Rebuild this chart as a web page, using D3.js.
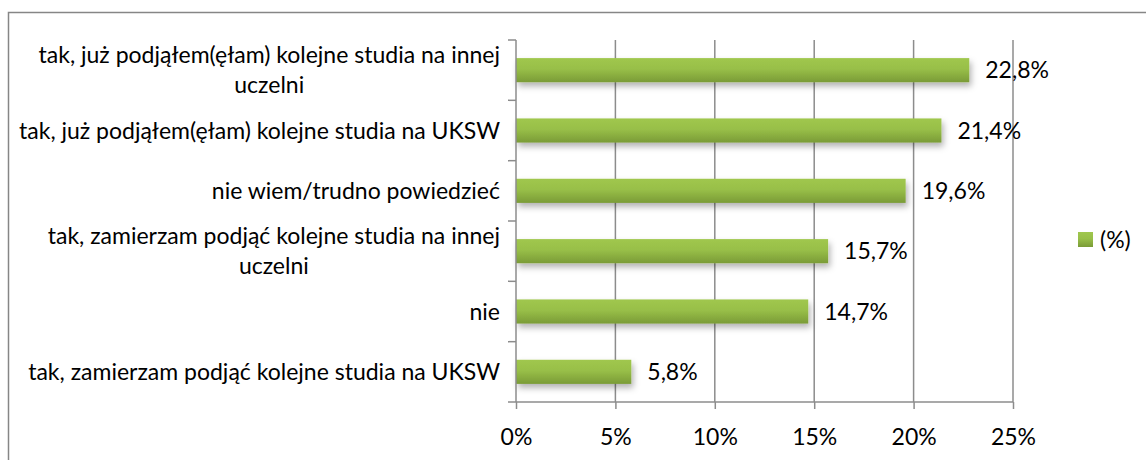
<!DOCTYPE html>
<html>
<head>
<meta charset="utf-8">
<script src="https://cdn.jsdelivr.net/npm/d3@7"></script>
<style>
  body { margin: 0; background: #fff; }
  svg text { font-family: Lato, "Open Sans", sans-serif; fill: #000; }
</style>
</head>
<body>
<svg id="chart"></svg>
<script>
// categories, top to bottom
let categories = [
    ["tak, już podjąłem(ęłam) kolejne studia na innej", "uczelni"],
    ["tak, już podjąłem(ęłam) kolejne studia na UKSW"],
    ["nie wiem/trudno powiedzieć"],
    ["tak, zamierzam podjąć kolejne studia na innej", "uczelni"],
    ["nie"],
    ["tak, zamierzam podjąć kolejne studia na UKSW"]
];
let values = [22.8, 21.4, 19.6, 15.7, 14.7, 5.8];
let valueLabels = ["22,8%", "21,4%", "19,6%", "15,7%", "14,7%", "5,8%"];
let xTicks = [0, 5, 10, 15, 20, 25];
let seriesName = "(%)";

let width = 1146;
let height = 460;
let plot = {left: 516, right: 1013, top: 40, bottom: 402};
let fontSize = 23;

let svg = d3.select("#chart")
    .attr("width", width)
    .attr("height", height);

let defs = svg.append("defs");
let grad = defs.append("linearGradient")
    .attr("id", "barGrad")
    .attr("x1", 0).attr("y1", 0).attr("x2", 0).attr("y2", 1);
grad.append("stop").attr("offset", "0%").attr("stop-color", "#a0c74e");
grad.append("stop").attr("offset", "45%").attr("stop-color", "#98bf48");
grad.append("stop").attr("offset", "100%").attr("stop-color", "#7a9b37");

let shadow = defs.append("filter")
    .attr("id", "shadow")
    .attr("x", "-5%").attr("y", "-20%")
    .attr("width", "115%").attr("height", "180%");
shadow.append("feDropShadow")
    .attr("dx", 2).attr("dy", 4)
    .attr("stdDeviation", 3)
    .attr("flood-color", "#000")
    .attr("flood-opacity", 0.3);

// outer border (chart area continues past the window)
svg.append("rect")
    .attr("x", 8.5).attr("y", 12.5)
    .attr("width", width + 20).attr("height", height + 20)
    .attr("fill", "none")
    .attr("stroke", "#868686")
    .attr("stroke-width", 1.5);

let x = d3.scaleLinear()
    .domain([0, 25])
    .range([plot.left, plot.right]);

let y = d3.scaleBand()
    .domain(d3.range(categories.length))
    .range([plot.top, plot.bottom])
    .paddingInner(0.6)
    .paddingOuter(0.3);

let band = d3.scaleBand()
    .domain(d3.range(categories.length))
    .range([plot.top, plot.bottom]);

// vertical gridlines
svg.append("g")
    .selectAll("line")
    .data(xTicks.slice(1))
    .join("line")
        .attr("x1", d => x(d)).attr("x2", d => x(d))
        .attr("y1", plot.top).attr("y2", plot.bottom)
        .attr("stroke", "#8c8c8c")
        .attr("stroke-width", 1.5);

// bars
svg.append("g")
    .selectAll("rect")
    .data(values)
    .join("rect")
        .attr("x", x(0))
        .attr("y", (d, i) => y(i))
        .attr("width", d => x(d) - x(0))
        .attr("height", y.bandwidth())
        .attr("fill", "url(#barGrad)")
        .attr("filter", "url(#shadow)");

// value labels
svg.append("g")
    .selectAll("text")
    .data(values)
    .join("text")
        .attr("x", d => x(d) + 16)
        .attr("y", (d, i) => y(i) + y.bandwidth() / 2)
        .attr("dy", "0.35em")
        .style("font-size", fontSize + "px")
        .text((d, i) => valueLabels[i]);

// x axis
let xAxis = svg.append("g")
    .attr("transform", `translate(0,${plot.bottom})`)
    .call(d3.axisBottom(x)
        .tickValues(xTicks)
        .tickFormat(d => d + "%")
        .tickSize(7)
        .tickSizeOuter(0));
xAxis.select(".domain").remove();
xAxis.append("line")
    .attr("x1", plot.left - 8).attr("x2", plot.right)
    .attr("y1", 0).attr("y2", 0)
    .attr("stroke", "#8c8c8c").attr("stroke-width", 1.5);
xAxis.selectAll(".tick line").attr("stroke", "#8c8c8c").attr("stroke-width", 1.5);
xAxis.selectAll(".tick text")
    .attr("y", 35)
    .attr("dy", "0.35em")
    .style("font-size", fontSize + "px")
    .style("font-family", "Lato, 'Open Sans', sans-serif")
    .attr("fill", "#000");

// y axis line and boundary ticks
let yAxis = svg.append("g");
yAxis.append("line")
    .attr("x1", plot.left).attr("x2", plot.left)
    .attr("y1", plot.top).attr("y2", plot.bottom)
    .attr("stroke", "#8c8c8c").attr("stroke-width", 1.5);
yAxis.selectAll(".bt")
    .data(d3.range(categories.length))
    .join("line")
        .attr("class", "bt")
        .attr("x1", plot.left - 8).attr("x2", plot.left)
        .attr("y1", d => band(d)).attr("y2", d => band(d))
        .attr("stroke", "#8c8c8c").attr("stroke-width", 1.5);

// category labels: block right-aligned, lines centred
let blockRight = 500;
let lineH = 30;
let catG = svg.append("g");
categories.forEach((lines, i) => {
    let cy = band(i) + band.bandwidth() / 2 - (lines.length - 1) * lineH / 2;
    let g = catG.append("g");
    let texts = g.selectAll("text")
        .data(lines)
        .join("text")
            .attr("y", (d, j) => cy + j * lineH)
            .attr("dy", "0.35em")
            .attr("text-anchor", "middle")
            .style("font-size", fontSize + "px")
            .text(d => d);
    let maxW = d3.max(texts.nodes(), n => n.getComputedTextLength());
    texts.attr("x", blockRight - maxW / 2);
});

// legend
let legend = svg.append("g")
    .attr("transform", "translate(1078,240)");
legend.append("rect")
    .attr("x", 0).attr("y", -8)
    .attr("width", 15).attr("height", 15)
    .attr("fill", "url(#barGrad)");
legend.append("text")
    .attr("x", 22).attr("y", 0)
    .attr("dy", "0.35em")
    .style("font-size", fontSize + "px")
    .text(seriesName);
</script>
</body>
</html>
